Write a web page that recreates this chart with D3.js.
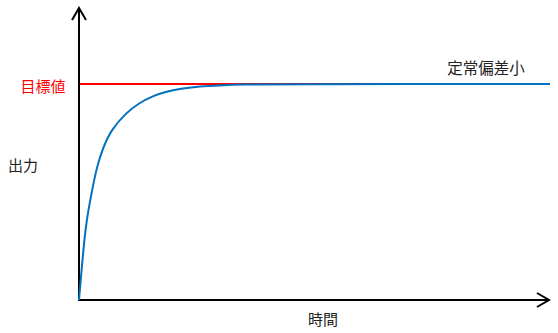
<!DOCTYPE html>
<html>
<head>
<meta charset="utf-8">
<script src="https://cdn.jsdelivr.net/npm/d3@7"></script>
<style>
  html, body { margin: 0; padding: 0; background: #fff; }
  text { font-family: "Noto Sans CJK JP", "Noto Sans", sans-serif; font-size: 15px; }
</style>
</head>
<body>
<div id="chart"></div>
<script>
let width = 558, height = 333;

// step response (time, output; target = 1)
const time   = [0, 0.032, 0.079, 0.149, 0.270, 0.383, 0.511, 0.681, 1.00, 1.277, 1.574, 1.851, 2.213, 2.574, 2.936, 3.532, 4.277, 10.02];
const output = [0, 0.083, 0.199, 0.356, 0.500, 0.620, 0.704, 0.787, 0.866, 0.912, 0.945, 0.965, 0.980, 0.989, 0.9935, 0.9977, 0.9995, 1.0];
const target = 1;

const labels = { target: '目標値', y: '出力', x: '時間', note: '定常偏差小' };

const x = d3.scaleLinear().domain([0, 10]).range([79, 549]);
const y = d3.scaleLinear().domain([0, 1]).range([300, 84]);

const svg = d3.select('#chart').append('svg')
  .attr('width', width)
  .attr('height', height);

// axes with arrow heads
const yTop = y(1.352), xEnd = x(10);
svg.append('line')
  .attr('x1', x(0)).attr('y1', y(0)).attr('x2', x(0)).attr('y2', yTop)
  .attr('stroke', '#000').attr('stroke-width', 2);
svg.append('path')
  .attr('d', `M${x(0) - 7},${yTop + 12} L${x(0)},${yTop} L${x(0) + 7},${yTop + 12}`)
  .attr('fill', 'none').attr('stroke', '#000').attr('stroke-width', 2);
svg.append('line')
  .attr('x1', x(0) - 1).attr('y1', y(0)).attr('x2', xEnd).attr('y2', y(0))
  .attr('stroke', '#000').attr('stroke-width', 2);
svg.append('path')
  .attr('d', `M${xEnd - 12},${y(0) - 7} L${xEnd},${y(0)} L${xEnd - 12},${y(0) + 7}`)
  .attr('fill', 'none').attr('stroke', '#000').attr('stroke-width', 2);

// target line
svg.append('line')
  .attr('x1', x(0) + 1).attr('x2', x(10.02))
  .attr('y1', y(target)).attr('y2', y(target))
  .attr('stroke', '#ff0000').attr('stroke-width', 2);

// response curve
const line = d3.line()
  .x((d, i) => x(time[i]))
  .y((d) => y(d))
  .curve(d3.curveBasis);

svg.append('path')
  .datum(output)
  .attr('d', line)
  .attr('fill', 'none')
  .attr('stroke', '#0070c0')
  .attr('stroke-width', 2);

// labels
svg.append('text').attr('x', 43).attr('y', 92).attr('text-anchor', 'middle')
  .attr('fill', '#ff0000').text(labels.target);
svg.append('text').attr('x', 23).attr('y', 171).attr('text-anchor', 'middle')
  .attr('fill', '#222').text(labels.y);
svg.append('text').attr('x', 323).attr('y', 325).attr('text-anchor', 'middle')
  .attr('fill', '#222').text(labels.x);
svg.append('text').attr('x', 486).attr('y', 74).attr('text-anchor', 'middle')
  .attr('fill', '#222').style('font-size', '15.5px').text(labels.note);
</script>
</body>
</html>
